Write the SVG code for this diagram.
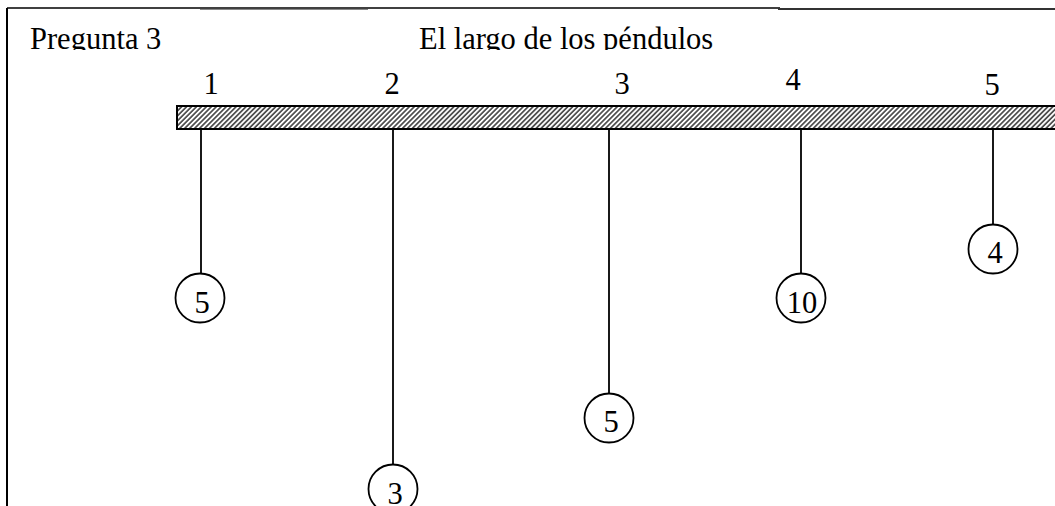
<svg xmlns="http://www.w3.org/2000/svg" width="1055" height="506" viewBox="0 0 1055 506">
<style>
text{font-family:"Liberation Serif","Times New Roman",serif;font-size:30.5px;fill:#000}
.s{stroke:#000;stroke-width:1.8;fill:none}
.c{stroke:#000;stroke-width:1.8;fill:#fff}
.m{text-anchor:middle}
</style>
<defs>
<pattern id="hatch" width="3.5" height="3.5" patternUnits="userSpaceOnUse" patternTransform="rotate(45)">
<rect width="3.5" height="3.5" fill="#fff"/>
<line x1="0.9" y1="0" x2="0.9" y2="3.5" stroke="#333" stroke-width="1.5"/>
</pattern>
<clipPath id="top"><rect x="0" y="0" width="1055" height="50"/></clipPath>
</defs>
<rect width="1055" height="506" fill="#fff"/>
<g id="frame">
<line x1="7" y1="8" x2="780" y2="8" stroke="#000" stroke-width="1.5"/>
<line x1="200" y1="9.5" x2="368" y2="9.5" stroke="#888" stroke-width="1"/>
<line x1="778" y1="9" x2="1055" y2="9" stroke="#333" stroke-width="2"/>
<line x1="7" y1="8" x2="7" y2="506" stroke="#000" stroke-width="2"/>
</g>
<g id="headings" clip-path="url(#top)">
<text x="30" y="49">Pregunta 3</text>
<text x="419" y="49">El largo de los péndulos</text>
</g>
<g id="bar">
<rect x="177" y="106" width="890" height="23" fill="url(#hatch)" stroke="#000" stroke-width="2"/>
</g>
<g id="numbers">
<text class="m" x="211" y="94">1</text>
<text class="m" x="392" y="94">2</text>
<text class="m" x="622" y="94">3</text>
<text class="m" x="793" y="90">4</text>
<text class="m" x="992" y="95">5</text>
</g>
<g id="connectors">
<line class="s" x1="201" y1="129" x2="201" y2="274"/>
<line class="s" x1="393" y1="129" x2="393" y2="465"/>
<line class="s" x1="609" y1="129" x2="609" y2="394"/>
<line class="s" x1="801" y1="129" x2="801" y2="274"/>
<line class="s" x1="993" y1="129" x2="993" y2="225"/>
</g>
<g id="p1"><circle class="c" cx="200" cy="298" r="24.5"/><text class="m" x="202" y="313">5</text></g>
<g id="p2"><circle class="c" cx="393" cy="489" r="24.5"/><text class="m" x="395" y="504">3</text></g>
<g id="p3"><circle class="c" cx="609" cy="418" r="24.5"/><text class="m" x="611" y="432">5</text></g>
<g id="p4"><circle class="c" cx="801" cy="298" r="24.5"/><text class="m" x="802" y="313">10</text></g>
<g id="p5"><circle class="c" cx="993" cy="249" r="24.5"/><text class="m" x="995" y="263">4</text></g>
</svg>
